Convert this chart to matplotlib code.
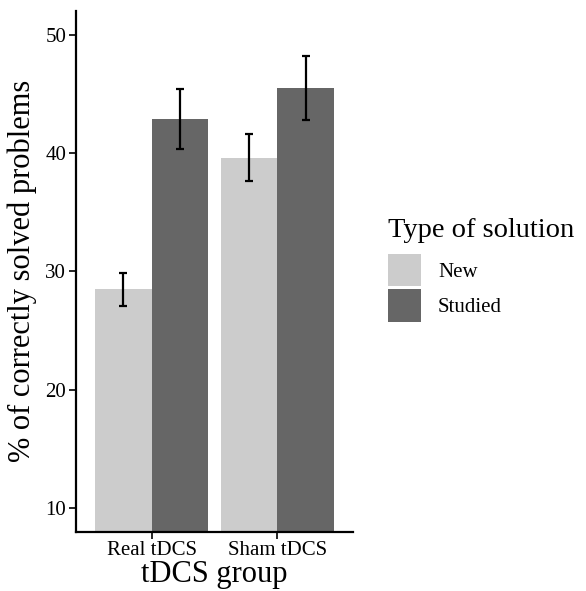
import numpy as np
import matplotlib
matplotlib.use("Agg")
from matplotlib import pyplot as plt
from matplotlib.patches import Patch

plt.rcParams["font.family"] = ["Liberation Serif", "DejaVu Serif"]

groups = ["Real tDCS", "Sham tDCS"]
solution_types = ["New", "Studied"]
means = {"New": [28.5, 39.6], "Studied": [42.9, 45.5]}
err_low = {"New": [27.1, 37.6], "Studied": [40.3, 42.8]}
err_high = {"New": [29.9, 41.6], "Studied": [45.4, 48.2]}
colors = {"New": "#CCCCCC", "Studied": "#666666"}

fig = plt.figure(figsize=(5.86, 5.91), dpi=100)
ax = fig.add_axes([76 / 586, 1 - 531.7 / 591, (353 - 76) / 586, (531.7 - 11) / 591])

x = np.arange(1, len(groups) + 1)
width = 0.45
for i, t in enumerate(solution_types):
    pos = x + (i - 0.5) * width
    m = np.array(means[t])
    lo = m - np.array(err_low[t])
    hi = np.array(err_high[t]) - m
    ax.bar(pos, m, width=width, color=colors[t], zorder=1)
    ax.errorbar(pos, m, yerr=[lo, hi], fmt="none", ecolor="black",
                elinewidth=1.6, capsize=3, capthick=1.6, zorder=2)

ax.set_xlim(0.4, 2.6)
ax.set_ylim(8, 52)
ax.set_yticks([10, 20, 30, 40, 50])
ax.set_xticks(x)
ax.set_xticklabels(groups)
for s in ["top", "right"]:
    ax.spines[s].set_visible(False)
for s in ["left", "bottom"]:
    ax.spines[s].set_linewidth(1.6)
ax.tick_params(axis="both", labelsize=15, length=5, width=1.2, colors="black", pad=2)
ax.set_xlabel("tDCS group", fontsize=22, labelpad=0)
ax.set_ylabel("% of correctly solved problems", fontsize=22, labelpad=6)

handles = [Patch(facecolor=colors[t], edgecolor="none") for t in solution_types]
leg = fig.legend(handles, solution_types, loc="upper left",
                 bbox_to_anchor=(388 / 586, 1 - 218 / 591), frameon=False,
                 title="Type of solution", fontsize=15, title_fontsize=20.5,
                 handlelength=1.6, handleheight=2.0, labelspacing=0.15,
                 handletextpad=0.8, borderpad=0, borderaxespad=0)
leg._legend_box.align = "left"
leg._legend_box.sep = 8

fig.savefig("out.png", dpi=100)
